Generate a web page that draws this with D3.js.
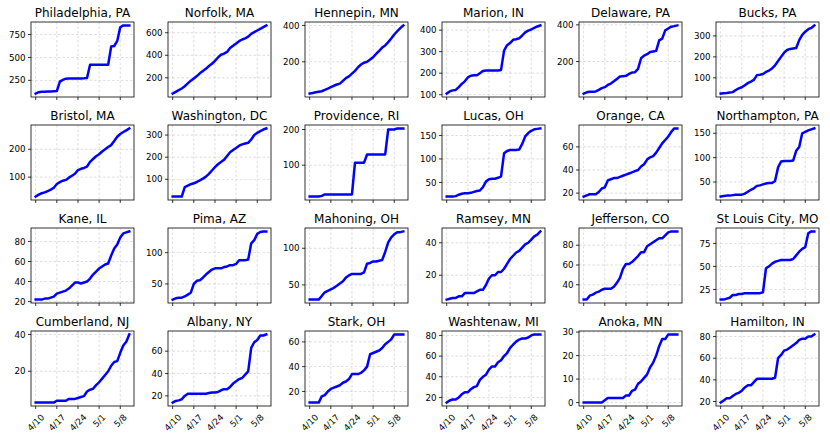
<!DOCTYPE html>
<html><head><meta charset="utf-8">
<script src="https://cdn.jsdelivr.net/npm/d3@7"></script>
<style>body{margin:0;background:#fff} text{font-family:"DejaVu Sans",sans-serif;fill:#000}</style>
</head><body><svg id="c" width="830" height="443"></svg>
<script>
const startDate = "2020-04-10";
const nDays = 32;
const xTickDates = ["2020-04-10","2020-04-17","2020-04-24","2020-05-01","2020-05-08"];
const xTickLabels = ["4/10","4/17","4/24","5/1","5/8"];

const titles = ["Philadelphia, PA","Norfolk, MA","Hennepin, MN","Marion, IN","Delaware, PA","Bucks, PA",
  "Bristol, MA","Washington, DC","Providence, RI","Lucas, OH","Orange, CA","Northampton, PA",
  "Kane, IL","Pima, AZ","Mahoning, OH","Ramsey, MN","Jefferson, CO","St Louis City, MO",
  "Cumberland, NJ","Albany, NY","Stark, OH","Washtenaw, MI","Anoka, MN","Hamilton, IN"];

const philadelphia = [105,120,125,125,127,128,130,132,235,255,268,270,270,270,270,270,272,275,420,420,420,420,420,420,420,620,625,680,830,850,850,850];
const norfolk = [60,75,90,105,125,150,175,195,215,240,260,280,305,325,350,380,405,415,430,465,485,505,525,540,550,565,590,605,620,635,650,665];
const hennepin = [25,28,32,35,38,45,52,60,68,75,80,95,110,120,135,150,170,185,195,200,212,225,243,260,278,290,308,328,350,368,385,400];
const marion = [105,115,120,122,135,150,162,180,188,190,190,200,210,212,212,212,212,212,215,305,330,340,355,358,362,375,390,398,403,410,417,422];
const delaware = [25,32,35,35,37,45,55,60,72,80,92,105,118,120,122,132,140,142,160,218,232,240,252,255,258,315,325,370,380,390,393,397];
const bucks = [25,27,28,30,32,42,50,55,65,75,82,90,113,115,118,128,135,145,160,180,200,220,233,238,240,242,280,305,320,332,338,350];
const bristol = [30,37,42,45,50,55,62,75,82,87,90,98,105,112,125,130,133,138,155,165,175,182,192,200,208,215,230,245,255,262,268,275];
const washington = [22,22,22,22,65,72,78,82,88,95,103,112,125,140,155,168,178,188,205,222,232,242,252,258,262,265,280,300,310,318,325,330];
const providence = [12,12,12,12,14,18,18,18,18,18,18,18,18,18,18,107,107,107,107,130,130,130,130,130,130,130,200,200,200,203,203,203];
const lucas = [20,20,20,21,24,26,27,27,28,30,32,33,40,52,57,58,58,60,63,112,117,119,119,119,120,132,148,155,160,163,164,165];
const orange = [17,18,19,19,19,21,24,25,31,32,33,33,34,35,36,37,38,39,40,43,45,49,51,52,55,59,63,66,69,73,76,76];
const northampton = [20,21,22,22,23,24,24,24,26,30,34,37,42,43,45,47,48,48,52,80,92,93,93,93,94,114,122,150,153,156,158,160];
const kane = [22,22,22,23,23,24,25,28,29,30,31,33,36,39,39,38,39,40,43,47,50,53,55,57,58,66,73,77,84,88,89,90];
const pima = [25,27,28,28,30,33,36,50,55,56,60,65,69,73,75,75,75,77,78,80,80,82,88,88,88,89,115,120,130,133,134,134];
const mahoning = [30,30,30,30,35,40,42,44,46,49,52,55,60,63,65,65,65,65,67,79,80,82,82,83,84,95,108,115,119,122,122,123];
const ramsey = [5,5.5,6,6,7,7,9,9,9,9,10,11,11,14,18,20,20,22,22,24,27,30,32,34,35,37,39,40,42,44,45,47];
const jefferson = [25,25,29,30,32,33,35,36,36,36,38,42,47,56,61,61,63,66,69,73,73,79,81,83,85,87,87,90,93,94,94,94];
const stLouis = [14,14,15,16,19,19,20,20,21,21,21,21,21,21,22,48,50,53,55,56,57,57,57,57,58,62,66,69,71,86,88,88];
const cumberland = [3,3,3,3,3,3,3,4,4,4,4,5,5,5,5.5,6,6.5,9,10,10.5,12.5,14,16,18,20,23,25,25.5,30,34,36,40];
const albany = [14,15.5,16,17,20,22,22,22,22,22,22,22,22.5,23,23,23.5,25,26,26,28,31,33,35,36,39,42,63,68,70,74,74,75];
const stark = [11,11,11,11,16,17,20,22,23,24,25,27,28,30,34,34,34,35,37,40,50,51,52,53,55,58,60,62,66,66,66,66];
const washtenaw = [15,17,18,18,20,23,25,25,28,30,31,37,40,42,47,50,50,54,56,60,63,68,71,74,76,77,77,78,80,81,81,81];
const anoka = [0,0,0,0,0,0,0,1,2,2,2,2,2,2,3,3,5,5.5,8,9,10.5,12,15,17,20,24,27,27,29,29,29,29];
const hamilton = [19,21,23,23,25,27,28,30,33,35,35,38,41,41,41,41,41,41,42,60,63,67,68,70,72,74,77,78,78,80,80,82];

const yTicks = [[250,500,750],[200,400,600],[200,400],[100,200,300,400],[200,400],[100,200,300],
  [100,200],[100,200,300],[100,200],[50,100,150],[20,40,60],[50,100,150],
  [20,40,60,80],[50,100],[50,100],[20,40],[40,60,80],[25,50,75],
  [20,40],[20,40,60],[20,40,60],[20,40,60,80],[0,10,20,30],[20,40,60,80]];

const seriesList = [philadelphia,norfolk,hennepin,marion,delaware,bucks,bristol,washington,providence,lucas,orange,northampton,
  kane,pima,mahoning,ramsey,jefferson,stLouis,cumberland,albany,stark,washtenaw,anoka,hamilton];

const parse = d3.timeParse("%Y-%m-%d");
const d0 = parse(startDate);
const dates = d3.range(nDays).map(i => d3.timeDay.offset(d0, i));
const dLast = dates[dates.length-1];
const padDays = (nDays-1)*0.05;
const FS = 8.7;

const svg = d3.select("#c");
svg.append("rect").attr("width",830).attr("height",443).attr("fill","#fff");

const W = 103, H = 75;
seriesList.forEach((vals, k) => {
  const r = Math.floor(k/6), c = k%6;
  const left = 31 + 137*c, top = 22 + 103*r;
  const g = svg.append("g").attr("transform",`translate(${left},${top})`);
  const x = d3.scaleTime()
    .domain([new Date(+d0 - padDays*864e5), new Date(+dLast + padDays*864e5)])
    .range([0, W]);
  const mn = d3.min(vals), mx = d3.max(vals), pad = (mx-mn)*0.05;
  const y = d3.scaleLinear().domain([mn-pad, mx+pad]).range([H, 0]);
  const xt = xTickDates.map(parse);

  // grid
  g.append("g").selectAll("line").data(xt).join("line")
    .attr("x1",d=>x(d)).attr("x2",d=>x(d)).attr("y1",0).attr("y2",H)
    .attr("stroke","#b0b0b0").attr("stroke-width",0.6).attr("stroke-dasharray","2.5,2").attr("opacity",0.7);
  g.append("g").selectAll("line").data(yTicks[k]).join("line")
    .attr("x1",0).attr("x2",W).attr("y1",d=>y(d)).attr("y2",d=>y(d))
    .attr("stroke","#b0b0b0").attr("stroke-width",0.6).attr("stroke-dasharray","2.5,2").attr("opacity",0.7);

  // line
  const line = d3.line().x((d,i)=>x(dates[i])).y(d=>y(d));
  g.append("path").datum(vals).attr("d",line).attr("fill","none")
    .attr("stroke","#0000ff").attr("stroke-width",2.5).attr("stroke-linejoin","round").attr("stroke-linecap","square");

  // frame
  g.append("rect").attr("width",W).attr("height",H).attr("fill","none").attr("stroke","#000").attr("stroke-width",0.8);

  // y ticks
  const ya = g.append("g");
  ya.selectAll("line").data(yTicks[k]).join("line")
    .attr("x1",-3).attr("x2",0).attr("y1",d=>y(d)).attr("y2",d=>y(d)).attr("stroke","#000").attr("stroke-width",0.8);
  ya.selectAll("text").data(yTicks[k]).join("text")
    .attr("x",-5.5).attr("y",d=>y(d)).attr("dy","0.36em").attr("text-anchor","end")
    .attr("font-size",FS+"px").text(d=>d);

  // x ticks
  g.append("g").selectAll("line").data(xt).join("line")
    .attr("x1",d=>x(d)).attr("x2",d=>x(d)).attr("y1",H).attr("y2",H+3).attr("stroke","#000").attr("stroke-width",0.8);
  if (r === 3) {
    g.append("g").selectAll("text").data(xt).join("text")
      .attr("text-anchor","middle").attr("dy","0.36em").attr("font-size",FS+"px")
      .text((d,i)=>xTickLabels[i])
      .each(function(d){
        const w = this.getComputedTextLength();
        const half = (w + FS*1.0)*0.7071/2;
        d3.select(this).attr("transform",`translate(${x(d)},${H + 6.5 + half}) rotate(-45)`);
      });
  }

  // title
  g.append("text").attr("x",W/2).attr("y",-5).attr("text-anchor","middle")
    .attr("font-size","12px").text(titles[k]);
});
</script></body></html>
